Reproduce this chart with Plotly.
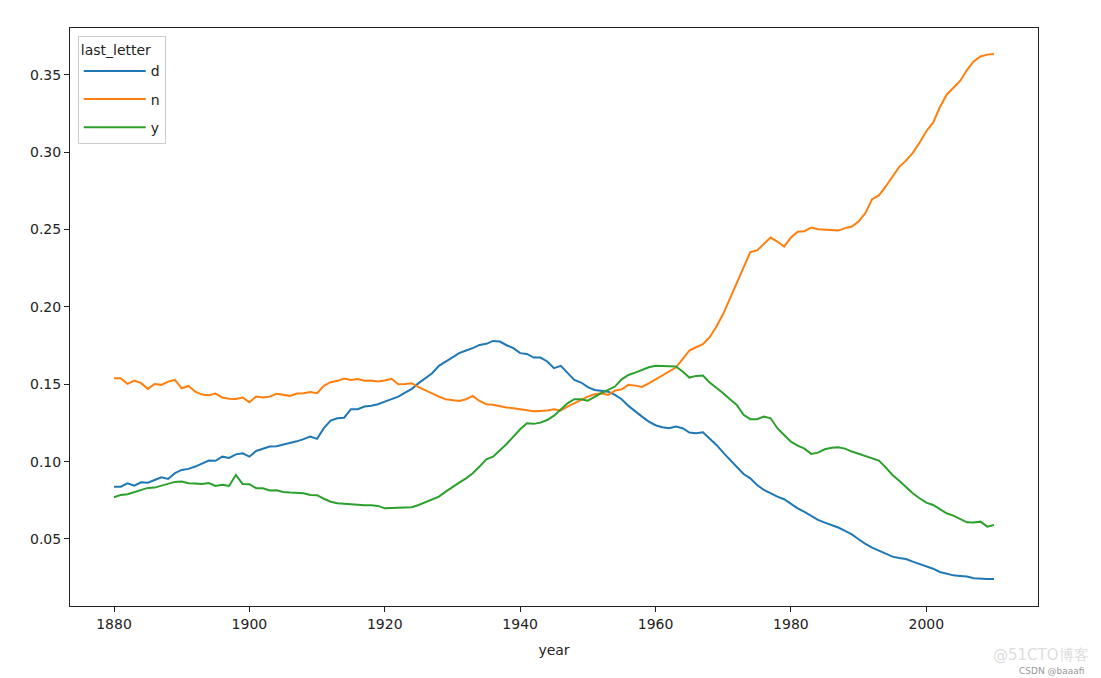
import plotly.graph_objects as go

years = list(range(1880, 2011))

d_share = [
    0.0838, 0.0838, 0.0860, 0.0845, 0.0866, 0.0864, 0.0881, 0.0899, 0.0888, 0.0925,
    0.0946, 0.0953, 0.0968, 0.0985, 0.1007, 0.1005, 0.1032, 0.1024, 0.1047, 0.1054,
    0.1032, 0.1069, 0.1084, 0.1097, 0.1099, 0.1108, 0.1121, 0.1131, 0.1145, 0.1162,
    0.1147, 0.1216, 0.1265, 0.1280, 0.1284, 0.1339, 0.1339, 0.1356, 0.1361, 0.1371,
    0.1388, 0.1403, 0.1420, 0.1446, 0.1470, 0.1507, 0.1539, 0.1571, 0.1619, 0.1646,
    0.1675, 0.1701, 0.1718, 0.1733, 0.1754, 0.1761, 0.1780, 0.1776, 0.1752, 0.1733,
    0.1701, 0.1696, 0.1672, 0.1672, 0.1647, 0.1604, 0.1619, 0.1571, 0.1528, 0.1511,
    0.1481, 0.1463, 0.1459, 0.1452, 0.1431, 0.1403, 0.1360, 0.1323, 0.1291, 0.1259,
    0.1235, 0.1222, 0.1216, 0.1227, 0.1216, 0.1188, 0.1184, 0.1190, 0.1151, 0.1108,
    0.1058, 0.1011, 0.0968, 0.0920, 0.0892, 0.0849, 0.0817, 0.0795, 0.0774, 0.0757,
    0.0726, 0.0698, 0.0675, 0.0649, 0.0623, 0.0606, 0.0591, 0.0574, 0.0552, 0.0530,
    0.0498, 0.0468, 0.0444, 0.0425, 0.0403, 0.0386, 0.0377, 0.0371, 0.0354, 0.0339,
    0.0325, 0.0308, 0.0287, 0.0274, 0.0265, 0.0261, 0.0257, 0.0246, 0.0242, 0.0242,
    0.0242,
]

n_share = [
    0.1539, 0.1539, 0.1502, 0.1524, 0.1507, 0.1470, 0.1502, 0.1496, 0.1517, 0.1528,
    0.1474, 0.1489, 0.1452, 0.1433, 0.1429, 0.1440, 0.1414, 0.1407, 0.1405, 0.1414,
    0.1384, 0.1420, 0.1414, 0.1420, 0.1438, 0.1431, 0.1425, 0.1440, 0.1442, 0.1450,
    0.1442, 0.1490, 0.1513, 0.1522, 0.1537, 0.1528, 0.1533, 0.1522, 0.1524, 0.1518,
    0.1524, 0.1535, 0.1500, 0.1502, 0.1507, 0.1481, 0.1459, 0.1438, 0.1420, 0.1403,
    0.1399, 0.1392, 0.1403, 0.1425, 0.1392, 0.1371, 0.1367, 0.1356, 0.1350, 0.1345,
    0.1339, 0.1330, 0.1325, 0.1327, 0.1330, 0.1339, 0.1330, 0.1356, 0.1377, 0.1399,
    0.1420, 0.1435, 0.1442, 0.1431, 0.1459, 0.1467, 0.1496, 0.1491, 0.1483, 0.1506,
    0.1532, 0.1560, 0.1582, 0.1608, 0.1662, 0.1718, 0.1739, 0.1759, 0.1804, 0.1873,
    0.1955, 0.2056, 0.2157, 0.2261, 0.2354, 0.2365, 0.2405, 0.2448, 0.2422, 0.2390,
    0.2448, 0.2485, 0.2489, 0.2513, 0.2502, 0.2498, 0.2496, 0.2493, 0.2509, 0.2519,
    0.2552, 0.2606, 0.2696, 0.2720, 0.2778, 0.2839, 0.2905, 0.2945, 0.2995, 0.3060,
    0.3135, 0.3190, 0.3290, 0.3371, 0.3415, 0.3460, 0.3530, 0.3586, 0.3618, 0.3630,
    0.3634,
]

y_share = [
    0.0770, 0.0785, 0.0789, 0.0804, 0.0817, 0.0830, 0.0832, 0.0843, 0.0856, 0.0869,
    0.0871, 0.0860, 0.0858, 0.0856, 0.0862, 0.0843, 0.0850, 0.0843, 0.0914, 0.0856,
    0.0854, 0.0828, 0.0828, 0.0813, 0.0815, 0.0804, 0.0800, 0.0800, 0.0796, 0.0785,
    0.0783, 0.0760, 0.0741, 0.0731, 0.0727, 0.0722, 0.0720, 0.0718, 0.0718, 0.0714,
    0.0698, 0.0700, 0.0702, 0.0702, 0.0705, 0.0720, 0.0737, 0.0752, 0.0774, 0.0806,
    0.0838, 0.0864, 0.0892, 0.0925, 0.0968, 0.1015, 0.1032, 0.1071, 0.1114, 0.1162,
    0.1209, 0.1248, 0.1244, 0.1252, 0.1269, 0.1297, 0.1334, 0.1377, 0.1403, 0.1403,
    0.1394, 0.1420, 0.1442, 0.1463, 0.1485, 0.1532, 0.1560, 0.1575, 0.1593, 0.1610,
    0.1619, 0.1619, 0.1617, 0.1615, 0.1582, 0.1543, 0.1554, 0.1556, 0.1511, 0.1478,
    0.1442, 0.1403, 0.1366, 0.1302, 0.1274, 0.1274, 0.1291, 0.1280, 0.1216, 0.1172,
    0.1129, 0.1103, 0.1084, 0.1050, 0.1058, 0.1080, 0.1090, 0.1093, 0.1084, 0.1065,
    0.1050, 0.1037, 0.1019, 0.1007, 0.0963, 0.0914, 0.0877, 0.0838, 0.0795, 0.0763,
    0.0735, 0.0720, 0.0692, 0.0666, 0.0651, 0.0627, 0.0608, 0.0606, 0.0612, 0.0580,
    0.0591,
]

series = [("d", d_share, "#1f77b4"), ("n", n_share, "#ff7f0e"), ("y", y_share, "#2ca02c")]

fig = go.Figure()
for name, vals, color in series:
    fig.add_trace(go.Scatter(x=years, y=vals, mode="lines", name=name, legendgroup=name,
                             line=dict(color=color, width=2)))

axis_style = dict(showline=True, linecolor="#222222", linewidth=1, mirror=True,
                  ticks="outside", ticklen=5, tickcolor="#222222", showgrid=False,
                  zeroline=False, tickfont=dict(size=14, color="#222222"))

fig.update_xaxes(range=[1873.5, 2016.5], tickvals=[1880, 1900, 1920, 1940, 1960, 1980, 2000],
                 title=dict(text="year", font=dict(size=14, color="#222222"), standoff=14),
                 **axis_style)
fig.update_yaxes(range=[0.0067, 0.3802], tickvals=[0.05, 0.10, 0.15, 0.20, 0.25, 0.30, 0.35],
                 tickformat=".2f", **axis_style)

# page body has an 8px margin, so the figure is a bit smaller than the window
fig.update_layout(
    width=1093, height=670,
    margin=dict(l=62, r=63, t=20, b=72),
    paper_bgcolor="white", plot_bgcolor="white",
    font=dict(family="DejaVu Sans", color="#222222"),
    legend=dict(x=0.008, y=0.986, xanchor="left", yanchor="top",
                bgcolor="rgba(255,255,255,0.8)", bordercolor="#cccccc", borderwidth=1,
                title=dict(text="last_letter", font=dict(size=14)),
                font=dict(size=14), itemwidth=62, tracegroupgap=7),
    annotations=[
        dict(text="@51CTO博客", xref="paper", yref="paper", x=1.055, y=-0.085,
             xanchor="right", yanchor="middle", showarrow=False,
             font=dict(size=15, color="#dddddd")),
        dict(text="CSDN @baaafi", xref="paper", yref="paper", x=1.05, y=-0.112,
             xanchor="right", yanchor="middle", showarrow=False,
             font=dict(size=9, color="#999999")),
    ],
)

fig.write_html("out.html")
